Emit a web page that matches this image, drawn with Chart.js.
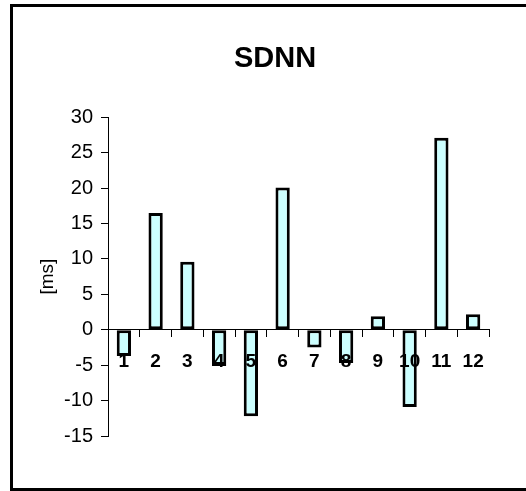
<!DOCTYPE html>
<html>
<head>
<meta charset="utf-8">
<script src="https://cdn.jsdelivr.net/npm/chart.js@4"></script>
<style>
  html, body { margin: 0; padding: 0; background: #fff; overflow: hidden; }
  #frame {
    position: absolute; left: 10px; top: 4px;
    width: 600px; height: 481px;
    border: 3px solid #000;
  }
  #wrap { position: absolute; left: 0; top: 0; width: 526px; height: 491px; }
</style>
</head>
<body>
<div id="frame"></div>
<div id="wrap"><canvas id="sdnnChart" width="526" height="491"></canvas></div>
<script>
// SDNN change per subject, in ms
const subjects = ["1", "2", "3", "4", "5", "6", "7", "8", "9", "10", "11", "12"];
const sdnnValues = [-3.7, 16.5, 9.6, -5.1, -12.2, 20.1, -2.5, -4.7, 1.9, -10.9, 27.1, 2.2];
const yMin = -15, yMax = 30, yStep = 5;

const family = "'Liberation Sans', Arial, sans-serif";

new Chart(document.getElementById("sdnnChart"), {
  type: "bar",
  data: {
    labels: subjects,
    datasets: [{
      label: "SDNN",
      data: sdnnValues,
      backgroundColor: "#ccffff",
      borderColor: "#000",
      borderWidth: 3,
      borderSkipped: false,
      barPercentage: 0.45,
      categoryPercentage: 1
    }]
  },
  options: {
    responsive: false,
    animation: false,
    devicePixelRatio: 1,
    layout: { padding: { left: 61, right: 37, top: 0, bottom: 55 } },
    plugins: {
      legend: { display: false },
      tooltip: { enabled: false },
      title: {
        display: true,
        text: "SDNN",
        color: "#000",
        font: { family, size: 29, weight: "bold", lineHeight: 1.2 },
        padding: { top: 42, bottom: 40.5 }
      }
    },
    scales: {
      x: {
        type: "category",
        position: { y: 0 },
        offset: true,
        // category labels sit on top of the negative bars
        grid: { offset: true, drawOnChartArea: false, drawTicks: true, tickLength: 7, color: "#000" },
        border: { display: true, color: "#000", width: 1, z: 1 },
        ticks: { z: 1, color: "#000", padding: 14, maxRotation: 0, autoSkip: false, font: { family, size: 19, weight: "bold" } }
      },
      y: {
        min: yMin,
        max: yMax,
        grid: { drawOnChartArea: false, drawTicks: true, tickLength: 7, color: "#000" },
        border: { display: true, color: "#000", width: 1 },
        ticks: { stepSize: yStep, color: "#000", padding: 8, font: { family, size: 20 } },
        title: {
          display: true,
          text: "[ms]",
          color: "#000",
          font: { family, size: 19 },
          padding: { top: -25, bottom: 0 }
        },
        afterFit: (scale) => { scale.width = 47; }
      }
    }
  }
});
</script>
</body>
</html>
